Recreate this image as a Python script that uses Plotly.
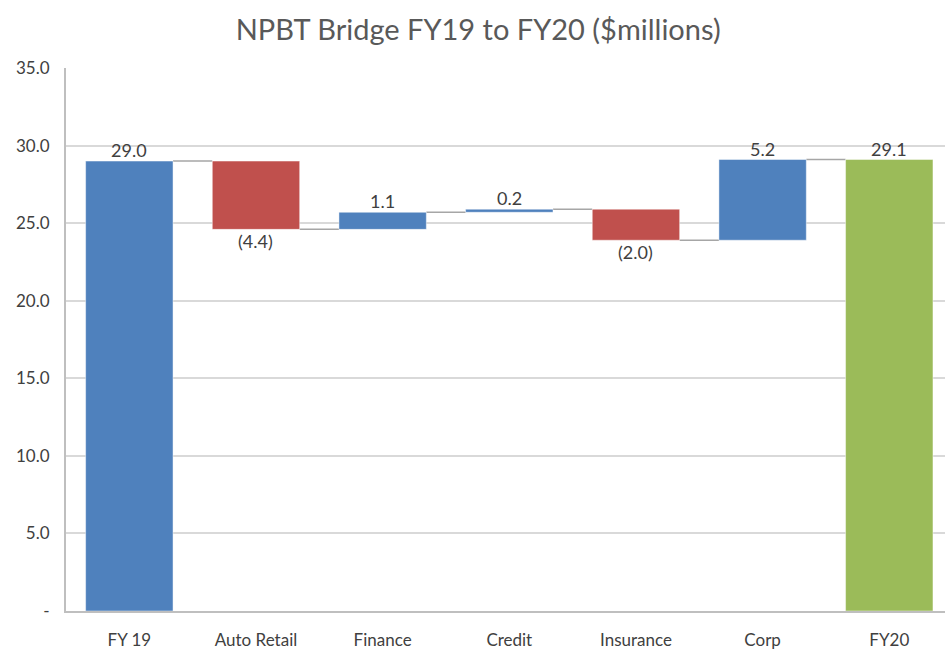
import plotly.graph_objects as go

categories = ["FY 19", "Auto Retail", "Finance", "Credit", "Insurance", "Corp", "FY20"]
values = [29.0, -4.4, 1.1, 0.2, -2.0, 5.2, 29.1]
kinds = ["total", "delta", "delta", "delta", "delta", "delta", "total"]
y_ticks = [0, 5, 10, 15, 20, 25, 30, 35]
y_tick_labels = ["-", "5.0", "10.0", "15.0", "20.0", "25.0", "30.0", "35.0"]

BLUE = "#4f81bd"
RED = "#c0504d"
GREEN = "#9bbb59"
FONT = "Lato, Liberation Sans, sans-serif"

bases, heights, colors, labels, tops = [], [], [], [], []
running = 0.0
for i, (v, k) in enumerate(zip(values, kinds)):
    if k == "total":
        bases.append(0)
        heights.append(v)
        running = v
        colors.append(GREEN if i == len(values) - 1 else BLUE)
        labels.append(f"{v:.1f}")
    else:
        start = running
        running = round(running + v, 4)
        bases.append(min(start, running))
        heights.append(abs(v))
        colors.append(BLUE if v >= 0 else RED)
        labels.append(f"{v:.1f}" if v >= 0 else f"({abs(v):.1f})")
    tops.append(running)

fig = go.Figure()
fig.add_trace(go.Bar(
    x=categories, y=heights, base=bases,
    marker=dict(color=colors, line=dict(color="rgba(255,255,255,0.45)", width=1)),
    width=0.69, hoverinfo="skip", showlegend=False,
))

for i, v in enumerate(values):
    if v >= 0:
        fig.add_annotation(x=categories[i], y=bases[i] + heights[i], text=labels[i],
                           showarrow=False, yanchor="bottom", yshift=-2,
                           font=dict(family=FONT, size=18, color="#404040"))
    else:
        fig.add_annotation(x=categories[i], y=bases[i], text=labels[i],
                           showarrow=False, yanchor="top", yshift=1,
                           font=dict(family=FONT, size=18, color="#404040"))

half = 0.69 / 2
for i in range(len(values) - 1):
    level = tops[i]
    fig.add_shape(type="line", xref="x", yref="y",
                  x0=i + half, x1=i + 1 - half, y0=level, y1=level,
                  line=dict(color="#a6a6a6", width=1.5), layer="below")

fig.update_layout(
    width=945, height=649,
    margin=dict(l=66, r=0, t=68, b=38, autoexpand=False),
    paper_bgcolor="white", plot_bgcolor="white",
    title=dict(text="NPBT Bridge FY19 to FY20 ($millions)", x=0.506, xanchor="center",
               yref="container", y=1 - 30 / 649, yanchor="middle",
               font=dict(family=FONT, size=29, color="#595959")),
    font=dict(family=FONT, size=17, color="#404040"),
    xaxis=dict(categoryorder="array", categoryarray=categories, automargin=False,
               range=[-0.5, 6.44], showgrid=False, showline=True,
               linecolor="#bfbfbf", linewidth=2, ticks="", ticklabelstandoff=13,
               tickfont=dict(family=FONT, size=17, color="#404040")),
    yaxis=dict(range=[0, 35], tickvals=y_ticks, ticktext=y_tick_labels, automargin=False,
               showgrid=True, gridcolor="#d9d9d9", gridwidth=2,
               showline=True, linecolor="#bfbfbf", linewidth=2,
               zeroline=False, ticks="", ticklabelstandoff=11,
               tickfont=dict(family=FONT, size=17, color="#404040")),
)

fig.write_html("out.html", config={"displayModeBar": False, "staticPlot": True},
               post_script="document.body.style.margin='0';document.body.style.overflow='hidden';")
